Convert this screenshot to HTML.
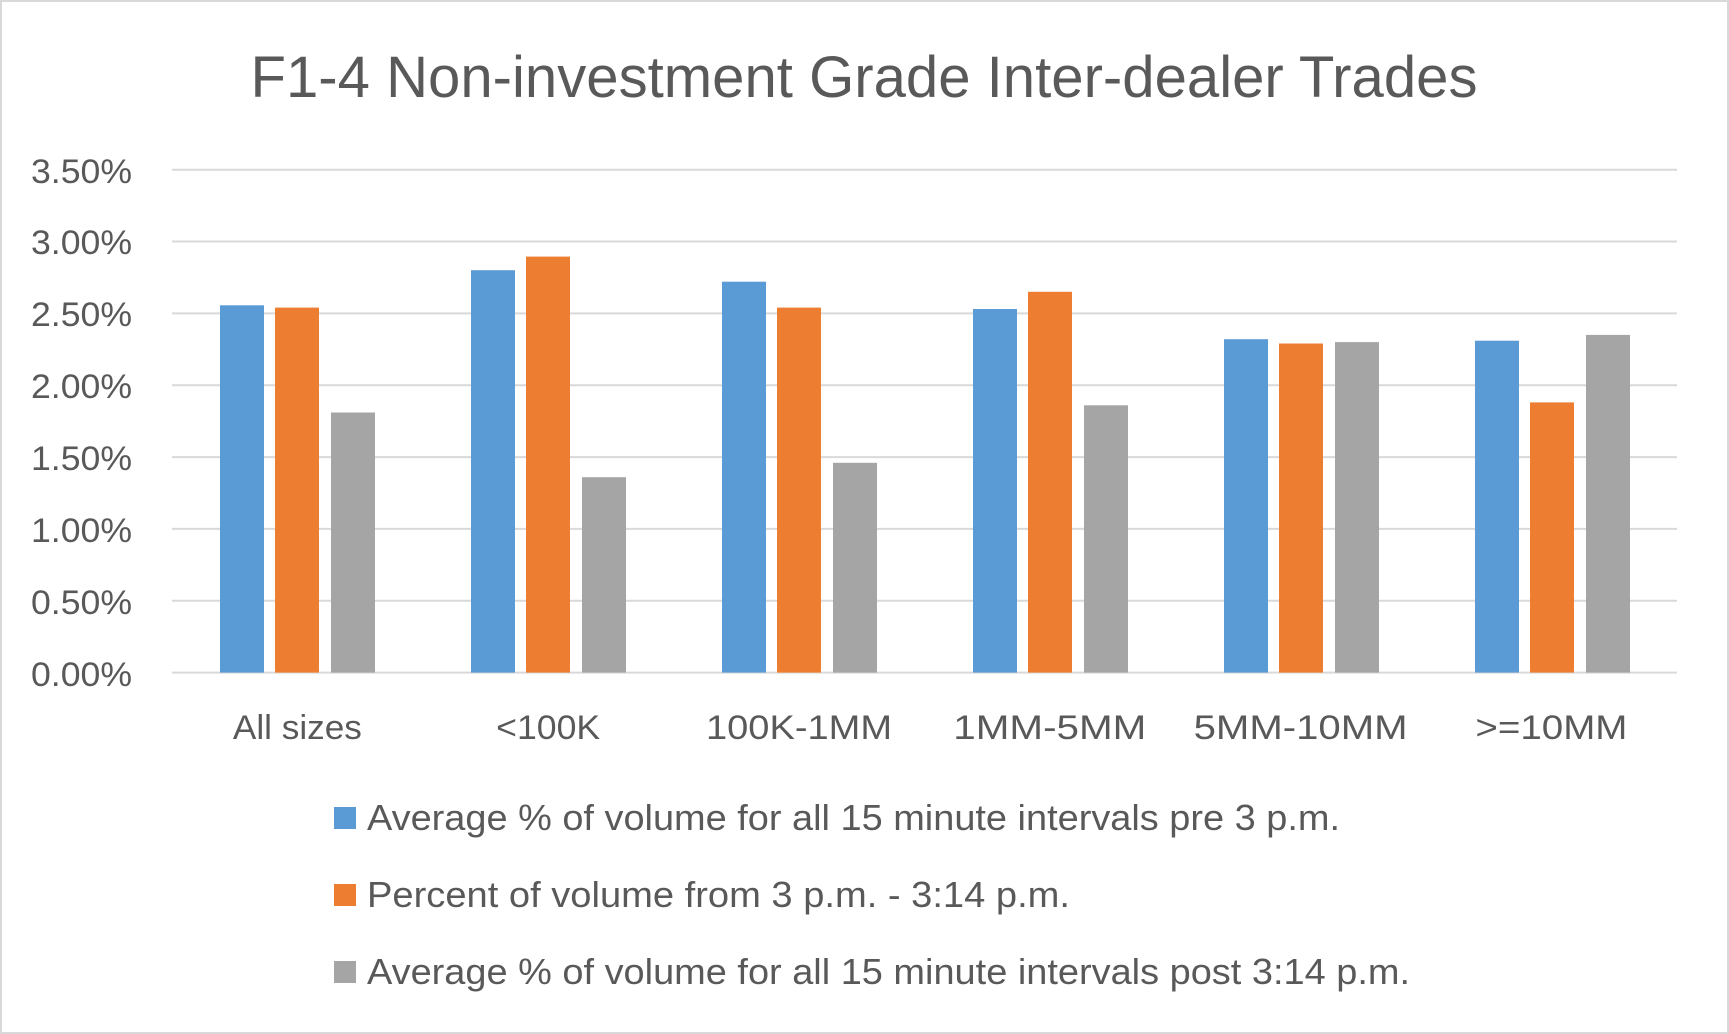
<!DOCTYPE html>
<html><head><meta charset="utf-8"><style>html,body{margin:0;padding:0;background:#fff}svg{display:block}</style></head>
<body>
<svg width="1729" height="1034" viewBox="0 0 1729 1034" xmlns="http://www.w3.org/2000/svg" font-family="Liberation Sans, sans-serif" fill="#595959">
<rect x="1" y="1" width="1727" height="1032" fill="#fff" stroke="#d9d9d9" stroke-width="2"/>
<text x="864" y="97" font-size="58" text-anchor="middle" textLength="1227" lengthAdjust="spacingAndGlyphs">F1-4 Non-investment Grade Inter-dealer Trades</text>
<g stroke="#d9d9d9" stroke-width="2">
<line x1="172" x2="1677" y1="169.7" y2="169.7"/>
<line x1="172" x2="1677" y1="241.5" y2="241.5"/>
<line x1="172" x2="1677" y1="313.4" y2="313.4"/>
<line x1="172" x2="1677" y1="385.2" y2="385.2"/>
<line x1="172" x2="1677" y1="457.1" y2="457.1"/>
<line x1="172" x2="1677" y1="528.9" y2="528.9"/>
<line x1="172" x2="1677" y1="600.8" y2="600.8"/>
<line x1="172" x2="1677" y1="672.6" y2="672.6"/>
</g>
<g font-size="34" text-anchor="end">
<text x="132" y="183" textLength="101" lengthAdjust="spacingAndGlyphs">3.50%</text>
<text x="132" y="254" textLength="101" lengthAdjust="spacingAndGlyphs">3.00%</text>
<text x="132" y="326" textLength="101" lengthAdjust="spacingAndGlyphs">2.50%</text>
<text x="132" y="398" textLength="101" lengthAdjust="spacingAndGlyphs">2.00%</text>
<text x="132" y="470" textLength="101" lengthAdjust="spacingAndGlyphs">1.50%</text>
<text x="132" y="542" textLength="101" lengthAdjust="spacingAndGlyphs">1.00%</text>
<text x="132" y="614" textLength="101" lengthAdjust="spacingAndGlyphs">0.50%</text>
<text x="132" y="686" textLength="101" lengthAdjust="spacingAndGlyphs">0.00%</text>
</g>
<g font-size="34" text-anchor="middle">
<text x="297.4" y="739" textLength="129" lengthAdjust="spacingAndGlyphs">All sizes</text>
<text x="548.2" y="739" textLength="104" lengthAdjust="spacingAndGlyphs">&lt;100K</text>
<text x="799" y="739" textLength="186" lengthAdjust="spacingAndGlyphs">100K-1MM</text>
<text x="1049.8" y="739" textLength="193" lengthAdjust="spacingAndGlyphs">1MM-5MM</text>
<text x="1300.6" y="739" textLength="214" lengthAdjust="spacingAndGlyphs">5MM-10MM</text>
<text x="1551.4" y="739" textLength="152" lengthAdjust="spacingAndGlyphs">&gt;=10MM</text>
</g>
<rect x="334" y="807" width="22" height="22" fill="#5b9bd5"/>
<rect x="334" y="884" width="22" height="22" fill="#ed7d31"/>
<rect x="334" y="961" width="22" height="22" fill="#a5a5a5"/>
<g font-size="36">
<text x="367" y="830" textLength="973" lengthAdjust="spacingAndGlyphs">Average % of volume for all 15 minute intervals pre 3 p.m.</text>
<text x="367" y="907" textLength="703" lengthAdjust="spacingAndGlyphs">Percent of volume from 3 p.m. - 3:14 p.m.</text>
<text x="367" y="984" textLength="1043" lengthAdjust="spacingAndGlyphs">Average % of volume for all 15 minute intervals post 3:14 p.m.</text>
</g>
<g>
<rect x="220" y="305.3" width="44" height="367.3" fill="#5b9bd5"/>
<rect x="275" y="307.6" width="44" height="365" fill="#ed7d31"/>
<rect x="331" y="412.5" width="44" height="260.1" fill="#a5a5a5"/>

<rect x="471" y="270.2" width="44" height="402.4" fill="#5b9bd5"/>
<rect x="526" y="256.6" width="44" height="416" fill="#ed7d31"/>
<rect x="582" y="477.2" width="44" height="195.4" fill="#a5a5a5"/>

<rect x="722" y="281.7" width="44" height="390.9" fill="#5b9bd5"/>
<rect x="777" y="307.6" width="44" height="365" fill="#ed7d31"/>
<rect x="833" y="462.8" width="44" height="209.8" fill="#a5a5a5"/>

<rect x="973" y="309" width="44" height="363.6" fill="#5b9bd5"/>
<rect x="1028" y="291.8" width="44" height="380.8" fill="#ed7d31"/>
<rect x="1084" y="405.3" width="44" height="267.3" fill="#a5a5a5"/>

<rect x="1224" y="339.2" width="44" height="333.4" fill="#5b9bd5"/>
<rect x="1279" y="343.5" width="44" height="329.1" fill="#ed7d31"/>
<rect x="1335" y="342.1" width="44" height="330.5" fill="#a5a5a5"/>

<rect x="1475" y="340.7" width="44" height="331.9" fill="#5b9bd5"/>
<rect x="1530" y="402.4" width="44" height="270.2" fill="#ed7d31"/>
<rect x="1586" y="334.9" width="44" height="337.7" fill="#a5a5a5"/>
</g>
</svg>
</body></html>
